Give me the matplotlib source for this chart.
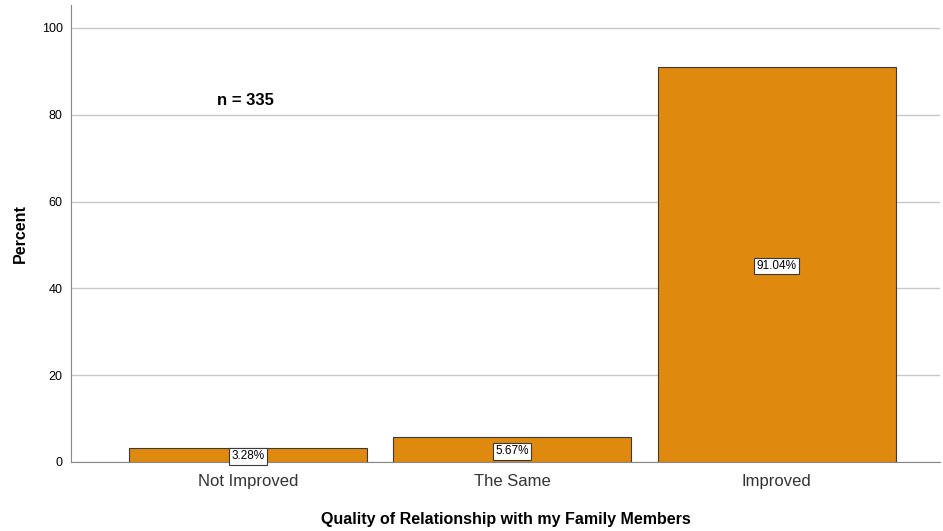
import matplotlib.pyplot as plt
import numpy as np

# data
categories = ["Not Improved", "The Same", "Improved"]
percents = [3.28, 5.67, 91.04]
n_total = 335

plt.rcParams['font.family'] = ['Liberation Sans', 'DejaVu Sans']

fig = plt.figure(figsize=(9.43, 5.31), dpi=100)
ax = fig.add_axes([0.0753, 0.13, 0.922, 0.8606])

x = np.arange(len(categories))
ax.bar(x, percents, width=0.9, color='#e0890f', edgecolor='#3a3a3a',
       linewidth=0.8, zorder=3)

# value labels in the middle of each bar
for xi, p in zip(x, percents):
    ax.text(xi, p / 2, "%.2f%%" % p, ha='center', va='center_baseline',
            fontsize=8.5, zorder=4,
            bbox=dict(boxstyle='square,pad=0.2', facecolor='white',
                      edgecolor='#3a3a3a', linewidth=0.8))

ax.text(-0.01, 83.4, "n = %d" % n_total, ha='center', va='center',
        fontsize=12, fontweight='bold')

ax.set_xlim(-0.67, 2.62)
ax.set_ylim(0, 105.3)
ax.set_yticks([0, 20, 40, 60, 80, 100])
ax.set_xticks(x)
ax.set_xticklabels(categories, fontsize=12, color='#333333')
ax.tick_params(axis='y', length=0, labelsize=9, pad=6)
ax.tick_params(axis='x', length=0, pad=9)

ax.yaxis.grid(True, color='#c8c8c8', linewidth=1)
ax.set_axisbelow(True)
for s in ['top', 'right']:
    ax.spines[s].set_visible(False)
ax.spines['left'].set_color('#888888')
ax.spines['bottom'].set_color('#888888')

ax.set_ylabel("Percent", fontsize=11.5, fontweight='bold', labelpad=10)
ax.set_xlabel("Quality of Relationship with my Family Members", fontsize=11.5,
              fontweight='bold', labelpad=16)

fig.savefig("out.png", dpi=100)
